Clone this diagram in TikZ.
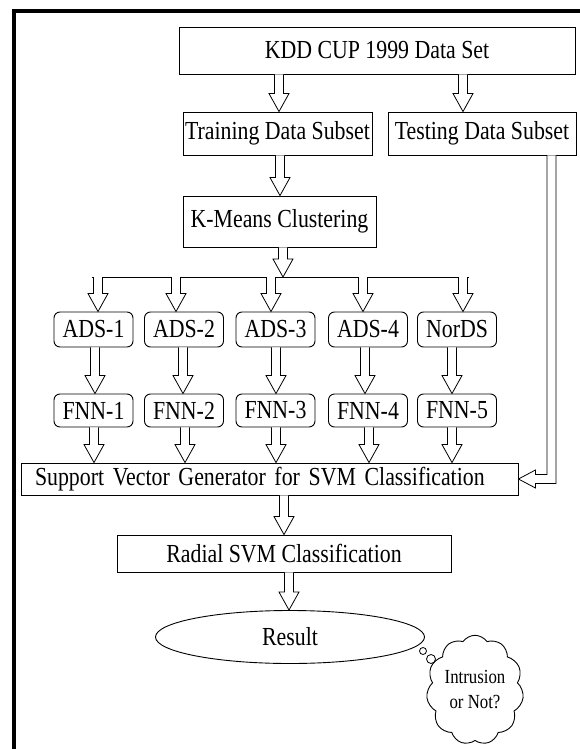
\documentclass[tikz,border=0pt]{standalone}
\usepackage{fontspec}
\setmainfont[FakeStretch=0.84]{Liberation Serif}
\usetikzlibrary{calc,shapes.geometric,shapes.symbols}
\tikzset{
  box/.style={draw, line width=0.9pt, rectangle, inner sep=0pt, font=\fontsize{26}{30}\selectfont},
  rbox/.style={box, rounded corners=6pt, minimum width=79pt},
  blk/.style={draw, line width=0.8pt, fill=white, line join=miter},
  frame/.style={line width=4pt}
}
% #1 = x (px), #2 = start coordinate, #3 = end (tip) coordinate
\newcommand\barrow[3]{%
  \draw[blk] let \p1=#2, \p2=#3 in
    (#1pt-4.5pt,\y1) -- (#1pt-4.5pt,\y2+18pt) -- (#1pt-10pt,\y2+18pt) -- (#1pt,\y2)
    -- (#1pt+10pt,\y2+18pt) -- (#1pt+4.5pt,\y2+18pt) -- (#1pt+4.5pt,\y1);}
\begin{document}
\begin{tikzpicture}[x=1pt,y=-1pt]
\useasboundingbox (0,0) rectangle (579,749);
\draw[frame] (14,11) rectangle (620,790);

\node[box, minimum width=396pt, minimum height=47pt] (kdd) at (377,50.5) {KDD CUP 1999 Data Set};
\node[box, minimum width=189pt, minimum height=43pt] (train) at (277.5,133.5) {Training Data Subset};
\node[box, minimum width=188pt, minimum height=43pt] (test) at (482,133.5) {Testing Data Subset};
\node[box, minimum width=193pt, minimum height=51pt] (kmeans) at (279.5,221.5) {K-Means Clustering};

\node[rbox, minimum height=35pt] (ads1) at (93.5,329.5) {ADS-1};
\node[rbox, minimum height=35pt] (ads2) at (184,329.5) {ADS-2};
\node[rbox, minimum height=35pt] (ads3) at (275.5,329.5) {ADS-3};
\node[rbox, minimum height=35pt] (ads4) at (368,329.5) {ADS-4};
\node[rbox, minimum height=35pt] (nords) at (457,329.5) {NorDS};

\node[rbox, minimum height=33pt] (fnn1) at (93.5,410.5) {FNN-1};
\node[rbox, minimum height=33pt] (fnn2) at (184,410.5) {FNN-2};
\node[rbox, minimum height=33pt] (fnn3) at (275.5,410.5) {FNN-3};
\node[rbox, minimum height=33pt] (fnn4) at (368,410.5) {FNN-4};
\node[rbox, minimum height=33pt] (fnn5) at (457,410.5) {FNN-5};

\node[box, text width=469pt, inner xsep=14pt, align=left, minimum height=32pt] (svg) at (269.5,479) {Support Vector Generator for SVM Classification};
\node[box, minimum width=334pt, minimum height=37pt] (radial) at (284,553.5) {Radial SVM Classification};
\node[box, ellipse, minimum width=269pt, minimum height=53pt] (result) at (290,637) {Result};

\node[cloud, draw, line width=0.9pt, cloud puffs=11, cloud puff arc=110, aspect=0.85,
      minimum width=88pt, minimum height=108pt, inner sep=0pt, align=center,
      font=\fontsize{20}{25}\selectfont] (cloud) at (475,690) {Intrusion\\or Not?};
\node[circle, draw, line width=0.8pt, minimum size=7pt, inner sep=0pt] (t1) at (423,651) {};
\node[circle, draw, line width=0.8pt, minimum size=9pt, inner sep=0pt] (t2) at (431,659) {};

% branch line
\coordinate (bl) at (92,277);
\coordinate (br) at (469,277);
\draw[line width=0.9pt] (bl) -- (br);

\barrow{279}{(kdd.south)}{(train.north)}
\barrow{463}{(kdd.south)}{(test.north)}
\barrow{280}{(train.south)}{(kmeans.north)}
\barrow{283}{(kmeans.south)}{(bl)}

\barrow{98}{(bl)}{(ads1.north)}
\barrow{176}{(bl)}{(ads2.north)}
\barrow{271}{(bl)}{(ads3.north)}
\barrow{363}{(bl)}{(ads4.north)}
\barrow{463}{(bl)}{(nords.north)}

\barrow{95}{(ads1.south)}{(fnn1.north)}
\barrow{183}{(ads2.south)}{(fnn2.north)}
\barrow{276}{(ads3.south)}{(fnn3.north)}
\barrow{365}{(ads4.south)}{(fnn4.north)}
\barrow{452}{(nords.south)}{(fnn5.north)}

\barrow{94}{(fnn1.south)}{(svg.north)}
\barrow{185}{(fnn2.south)}{(svg.north)}
\barrow{276}{(fnn3.south)}{(svg.north)}
\barrow{369}{(fnn4.south)}{(svg.north)}
\barrow{452}{(fnn5.south)}{(svg.north)}

\barrow{284}{(svg.south)}{(radial.north)}
\barrow{289}{(radial.south)}{(result.north)}

% testing subset to support vector generator
\draw[blk] let \p1=(test.south), \p2=(svg.east) in
  (547pt,\y1) -- (547pt,\y2+4.5pt) -- (\x2+17pt,\y2+4.5pt) -- (\x2+17pt,\y2+9pt) -- (\x2,\y2)
  -- (\x2+17pt,\y2-9pt) -- (\x2+17pt,\y2-4.5pt) -- (556pt,\y2-4.5pt) -- (556pt,\y1);
\end{tikzpicture}
\end{document}
